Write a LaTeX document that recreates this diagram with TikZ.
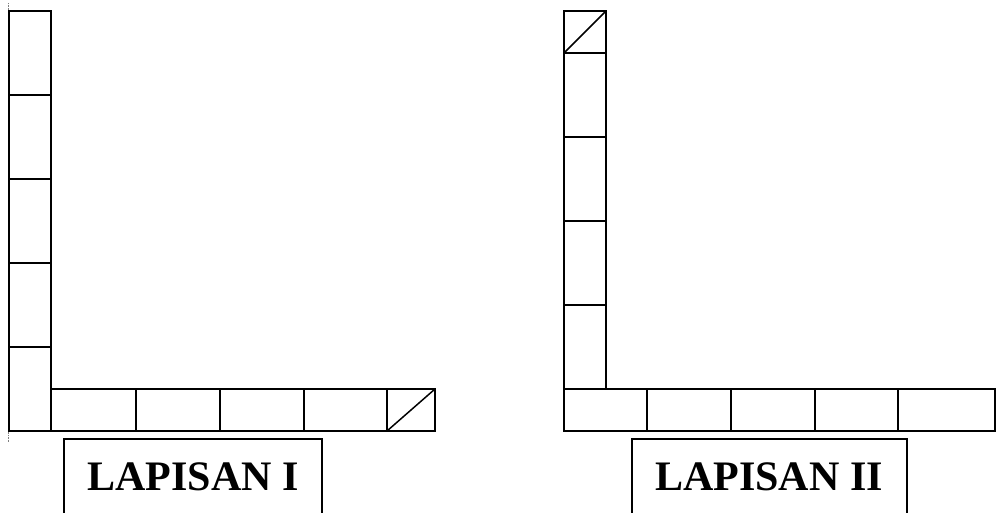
\documentclass[tikz,border=0pt]{standalone}
\usepackage{fontspec}
\setmainfont{Liberation Serif}
\begin{document}
\begin{tikzpicture}[x=1pt,y=-1pt,
  cell/.style={draw=black,line width=1.5pt},
  diag/.style={draw=black,line width=1.5pt},
  frame/.style={draw=black,line width=1.5pt},
  margin/.style={draw=gray,line width=0.8pt,dash pattern=on 0.8pt off 0.8pt},
  title/.style={anchor=base,inner sep=0pt,font=\fontsize{42}{50}\selectfont\bfseries}]
\useasboundingbox (0,0) rectangle (997,513);

% page margin guide
\draw[margin] (8,3) -- (8,442);

% ---- first layer ----
% vertical column
\foreach \ya/\yb in {11/95,95/179,179/263,263/347,347/431}
  \draw[cell] (9,\ya) rectangle (51,\yb);
% horizontal row
\foreach \xa/\xb in {51/136,136/220,220/304,304/387,387/435}
  \draw[cell] (\xa,389) rectangle (\xb,431);
\draw[diag] (387,431) -- (435,389);
% label
\draw[frame] (64,513) -- (64,439) -- (322,439) -- (322,513);
\node[title] (lapisanI) at (193,490) {LAPISAN I};

% ---- second layer ----
% vertical column
\foreach \ya/\yb in {11/53,53/137,137/221,221/305,305/389}
  \draw[cell] (564,\ya) rectangle (606,\yb);
\draw[diag] (564,53) -- (606,11);
% horizontal row
\foreach \xa/\xb in {564/647,647/731,731/815,815/898,898/995}
  \draw[cell] (\xa,389) rectangle (\xb,431);
% label
\draw[frame] (632,513) -- (632,439) -- (907,439) -- (907,513);
\node[title] (lapisanII) at (769,490) {LAPISAN II};
\end{tikzpicture}
\end{document}
